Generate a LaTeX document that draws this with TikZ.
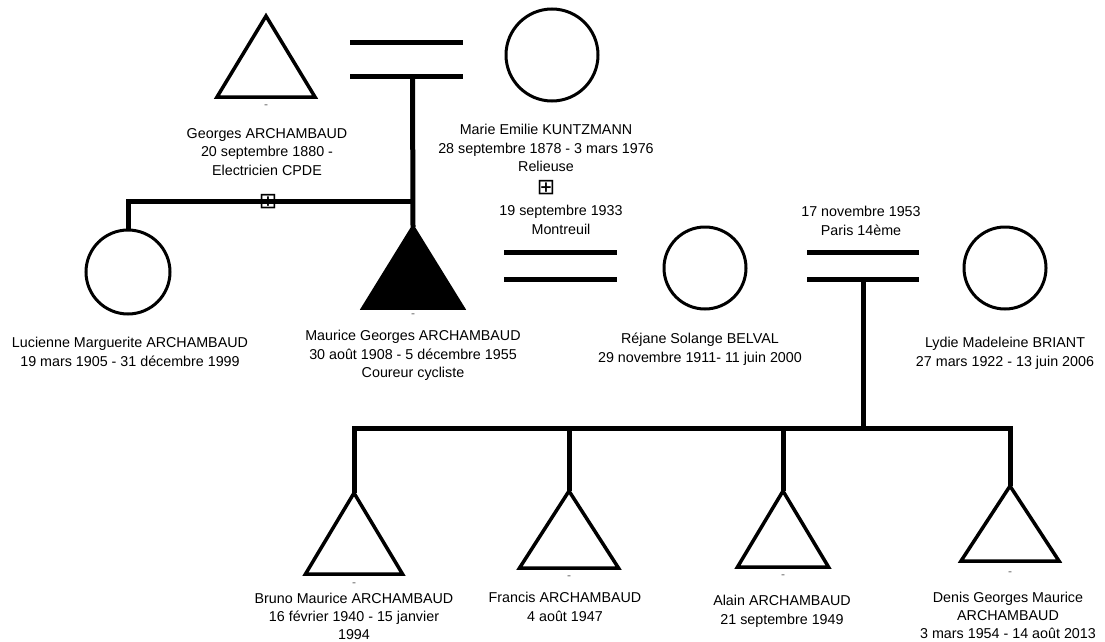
\documentclass[tikz,border=0pt]{standalone}
\usepackage{fontspec}
\setmainfont{Liberation Sans}
\newfontfamily\symfont{DejaVu Sans}
\usetikzlibrary{shapes.geometric}
\begin{document}
\begin{tikzpicture}[x=1pt,y=-1pt,
  lab/.style={anchor=north, align=center, inner sep=0pt, font=\fontsize{14.3}{18.5}\selectfont},
  male/.style={isosceles triangle, isosceles triangle stretches, shape border rotate=90, draw, line width=3.5pt, inner sep=0pt, outer sep=0pt, anchor=apex},
  female/.style={circle, draw, line width=3pt, inner sep=0pt, outer sep=0pt},
  marr/.style={line width=5pt},
  link/.style={line width=5pt},
  tick/.style={inner sep=0pt, text=black!60, font=\fontsize{12}{12}\selectfont},
  boxplus/.style={inner sep=0pt, font=\symfont\fontsize{22}{22}\selectfont}
]
\useasboundingbox (0,0) rectangle (1105,642);

% persons
\node[male, minimum width=98, minimum height=81] (georges) at (266,16) {};
\node[female, minimum size=92] (marie) at (552,55) {};
\node[female, minimum size=84] (lucienne) at (128,272) {};
\node[male, fill=black, minimum width=100, minimum height=81] (maurice) at (413,227) {};
\node[female, minimum size=82] (rejane) at (705,268) {};
\node[female, minimum size=82] (lydie) at (1005,268) {};
\node[male, minimum width=97, minimum height=81] (bruno) at (354,493) {};
\node[male, minimum width=99, minimum height=77] (francis) at (569,491) {};
\node[male, minimum width=91, minimum height=76] (alain) at (783,491) {};
\node[male, minimum width=98, minimum height=75] (denis) at (1010,486) {};

% small marks under triangles
\node[tick] (tg) at (266,107) {-};
\node[tick] (tm) at (413,316) {-};
\node[tick] (tb) at (354,585) {-};
\node[tick] (tf) at (569,578) {-};
\node[tick] (ta) at (783,577) {-};
\node[tick] (td) at (1010,574) {-};

% labels
\node[lab] (lgeorges) at (267,128) {Georges ARCHAMBAUD\\20 septembre 1880 -\\Electricien CPDE};
\node[lab] (lmarie) at (546,124) {Marie Emilie KUNTZMANN\\28 septembre 1878 - 3 mars 1976\\Relieuse};
\node[boxplus] (bp1) at (546,187.5) {⊞};
\node[lab] (lm1) at (561,205) {19 septembre 1933\\Montreuil};
\node[lab] (llucienne) at (130,337) {Lucienne Marguerite ARCHAMBAUD\\19 mars 1905 - 31 décembre 1999};
\node[lab] (lmaurice) at (413,330) {Maurice Georges ARCHAMBAUD\\30 août 1908 - 5 décembre 1955\\Coureur cycliste};
\node[lab] (lrejane) at (700,333) {Réjane Solange BELVAL\\29 novembre 1911- 11 juin 2000};
\node[lab] (llydie) at (1005,337) {Lydie Madeleine BRIANT\\27 mars 1922 - 13 juin 2006};
\node[lab] (lm3) at (861,206) {17 novembre 1953\\Paris 14ème};
\node[lab, font=\fontsize{14.3}{18.1}\selectfont] (lbruno) at (354,593) {Bruno Maurice ARCHAMBAUD\\16 février 1940 - 15 janvier\\1994};
\node[lab] (lfrancis) at (565,592) {Francis ARCHAMBAUD\\4 août 1947};
\node[lab] (lalain) at (782,595) {Alain ARCHAMBAUD\\21 septembre 1949};
\node[lab, font=\fontsize{14.3}{18.1}\selectfont] (ldenis) at (1008,592) {Denis Georges Maurice\\ARCHAMBAUD\\3 mars 1954 - 14 août 2013};

% marriage Georges - Marie
\coordinate (m1a) at (350,43);
\coordinate (m1b) at (463,43);
\coordinate (m1c) at (350,76);
\coordinate (m1d) at (463,76);
\coordinate (m1o) at (412.5,76);
\draw[marr] (m1a) -- (m1b);
\draw[marr] (m1c) -- (m1d);
\draw[link] (m1o) -- (maurice.apex);
\coordinate (sib) at (412.5,201);
\node[boxplus] (bp2) at (268,202) {⊞};
\draw[link] (sib) -| (lucienne.north);

% marriage Maurice - Rejane
\coordinate (m2a) at (504,252);
\coordinate (m2b) at (617,252);
\coordinate (m2c) at (504,279);
\coordinate (m2d) at (617,279);
\draw[marr] (m2a) -- (m2b);
\draw[marr] (m2c) -- (m2d);

% marriage Maurice - Lydie
\coordinate (m3a) at (807,252);
\coordinate (m3b) at (919,252);
\coordinate (m3c) at (807,279);
\coordinate (m3d) at (919,279);
\coordinate (m3o) at (863,279);
\coordinate (bar) at (863,428);
\draw[marr] (m3a) -- (m3b);
\draw[marr] (m3c) -- (m3d);
\draw[link] (m3o) -- (bar);

% children
\draw[link] (bruno.apex) -- (bruno.apex |- bar) -- (denis.apex |- bar) -- (denis.apex);
\draw[link] (francis.apex |- bar) -- (francis.apex);
\draw[link] (alain.apex |- bar) -- (alain.apex);
\end{tikzpicture}
\end{document}
